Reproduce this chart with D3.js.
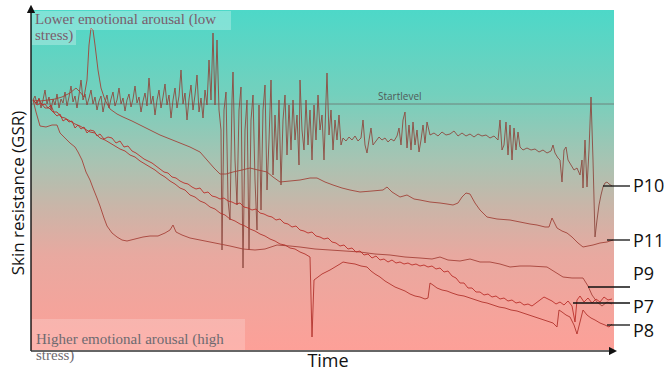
<!DOCTYPE html>
<html>
<head>
<meta charset="utf-8">
<script src="https://cdn.jsdelivr.net/npm/d3@7"></script>
<style>
  body { margin: 0; background: #fff; }
  svg { display: block; }
</style>
</head>
<body>
<svg id="chart"></svg>
<script>
// time in seconds, skin resistance in arbitrary GSR units
const timeDomain = [0, 580];
const gsrDomain = [0, 340];
const startLevel = 246;

const p10 = [[0,250],[2,254],[4,246],[6,252],[8,242],[10,250],[12,260],[14,246],[16,253],[18,240],[20,251],[22,245],[24,256],[26,242],[28,251],[30,247],[32,258],[34,244],[36,253],[38,264],[40,248],[42,254],[44,242],[46,255],[48,270],[50,250],[52,256],[54,245],[56,252],[58,260],[60,246],[62,253],[64,240],[66,249],[68,254],[70,238],[72,248],[74,255],[76,242],[78,251],[80,258],[82,244],[84,250],[86,262],[88,246],[90,252],[92,239],[94,250],[96,256],[98,243],[100,251],[102,264],[104,247],[106,253],[108,238],[110,249],[112,257],[114,244],[116,272],[118,246],[120,254],[122,235],[124,250],[126,260],[128,242],[130,253],[132,266],[134,245],[136,255],[138,232],[140,250],[142,262],[144,242],[146,254],[148,280],[150,246],[152,257],[154,230],[156,251],[158,265],[160,240],[162,255],[164,275],[166,238],[168,252],[170,232],[172,260],[174,245],[176,290],[178,250],[180,317],[182,245],[184,310],[186,240],[188,220],[189,100],[191,240],[193,258],[195,150],[197,130],[199,250],[200,278],[202,190],[204,145],[206,240],[208,263],[210,82],[212,220],[214,250],[216,100],[218,230],[220,255],[222,170],[224,120],[226,245],[228,140],[230,240],[232,265],[234,160],[236,210],[238,270],[240,175],[242,235],[244,190],[246,250],[248,165],[250,230],[252,255],[254,195],[256,245],[258,200],[260,250],[262,210],[264,235],[266,185],[267,270],[269,220],[271,200],[273,250],[275,205],[277,240],[279,190],[281,245],[283,210],[285,255],[287,220],[289,235],[291,190],[293,250],[294,277],[296,215],[298,240],[300,200],[302,230],[304,210],[306,235],[308,205],[310,212],[313,209],[316,213],[319,210],[322,214],[325,209],[328,212],[330,230],[332,205],[334,197],[336,210],[338,222],[340,205],[343,209],[346,213],[349,210],[352,212],[355,208],[358,211],[361,209],[364,214],[366,222],[368,205],[370,230],[372,238],[374,202],[376,225],[378,200],[380,228],[382,205],[384,220],[386,198],[388,210],[390,225],[392,207],[394,228],[397,215],[401,217],[405,214],[409,218],[413,215],[417,216],[421,219],[425,214],[429,217],[433,214],[437,216],[441,213],[445,216],[449,214],[453,215],[457,212],[461,214],[465,210],[467,230],[469,200],[471,205],[473,228],[475,195],[477,225],[479,190],[481,222],[483,200],[485,218],[487,203],[490,200],[494,202],[498,200],[502,201],[506,198],[510,200],[514,197],[518,199],[520,205],[522,197],[525,192],[527,190],[529,168],[531,200],[533,203],[535,190],[538,185],[541,180],[544,182],[547,175],[549,190],[550,162],[552,210],[554,163],[556,200],[558,253],[560,190],[562,113],[564,130],[566,145],[568,155],[570,163],[572,167],[574,168],[576,166],[579,164]];

const p11 = [[0,250],[7,249],[15,250],[22,251],[29,253],[37,257],[43,262],[47,258],[51,253],[54,270],[56,305],[58,322],[60,320],[62,305],[65,280],[68,262],[72,250],[77,241],[84,236],[90,233],[99,229],[107,225],[117,220],[127,215],[137,211],[147,207],[157,203],[167,198],[174,190],[181,182],[187,176],[193,176],[200,178],[209,180],[217,182],[225,180],[234,178],[240,173],[247,168],[257,169],[267,170],[277,172],[284,172],[292,168],[300,165],[309,162],[317,160],[327,158],[339,159],[350,160],[354,163],[359,158],[367,153],[374,155],[381,151],[387,150],[397,148],[407,147],[414,146],[420,145],[425,147],[429,153],[433,157],[437,156],[442,147],[447,140],[454,133],[464,131],[477,130],[487,128],[497,126],[504,125],[512,123],[516,123],[519,132],[522,126],[524,122],[529,119],[534,117],[539,113],[545,107],[550,103],[555,104],[560,105],[567,107],[574,108],[580,110]];

const p9 = [[0,250],[3,238],[7,224],[13,223],[19,225],[24,225],[27,217],[32,212],[37,207],[42,203],[45,198],[49,190],[53,178],[57,170],[60,162],[64,152],[67,144],[71,132],[74,124],[79,117],[84,113],[89,110],[94,109],[102,111],[110,113],[117,114],[125,114],[132,117],[137,120],[140,125],[143,118],[149,115],[157,112],[167,110],[177,108],[187,106],[197,104],[210,101],[222,100],[232,101],[244,105],[257,104],[267,103],[282,101],[297,100],[312,99],[327,98],[342,96],[357,95],[372,93],[387,92],[399,91],[407,93],[415,90],[427,89],[437,91],[447,88],[457,88],[467,86],[477,83],[487,84],[497,84],[514,83],[522,78],[530,73],[539,72],[550,72],[555,64],[559,55],[564,48],[569,44],[574,48],[579,46]];

const p7 = [[0,250],[3,247],[6,251],[9,245],[12,246],[15,242],[18,245],[21,237],[24,234],[27,236],[30,229],[33,231],[36,228],[39,229],[42,222],[45,225],[48,221],[51,223],[54,217],[57,220],[61,219],[64,214],[67,216],[71,211],[75,213],[79,212],[83,207],[87,209],[91,203],[95,204],[99,199],[103,197],[107,194],[111,191],[115,189],[119,187],[123,184],[127,181],[131,178],[135,177],[139,173],[143,172],[147,169],[151,167],[155,166],[159,163],[163,161],[167,162],[171,157],[175,158],[179,154],[183,153],[187,151],[191,152],[195,149],[199,148],[203,146],[207,147],[211,143],[215,142],[219,140],[223,141],[227,137],[231,136],[235,134],[239,133],[243,130],[247,131],[251,127],[255,126],[259,123],[263,124],[267,120],[271,119],[275,117],[279,118],[283,114],[287,113],[291,111],[295,112],[299,108],[303,107],[307,104],[311,105],[315,101],[319,102],[323,98],[327,99],[331,95],[335,96],[339,92],[343,94],[347,90],[351,91],[355,88],[359,90],[363,87],[367,88],[371,86],[375,87],[379,85],[383,86],[387,84],[391,85],[395,83],[399,84],[403,81],[407,82],[411,78],[415,79],[419,74],[423,72],[427,67],[431,67],[435,62],[439,62],[443,58],[447,58],[451,55],[455,56],[459,53],[463,54],[467,51],[471,52],[475,49],[479,50],[483,47],[487,48],[491,45],[495,46],[499,44],[503,47],[507,50],[511,53],[515,51],[519,49],[523,46],[527,48],[531,45],[535,49],[539,44],[542,28],[544,50],[547,54],[551,48],[555,52],[559,47],[563,51],[567,48],[571,53],[575,50],[579,51]];

const p8 = [[0,250],[4,245],[8,247],[12,242],[16,242],[20,238],[24,238],[28,233],[32,232],[37,229],[42,226],[47,224],[52,221],[57,218],[62,217],[67,212],[72,210],[77,207],[82,204],[87,201],[92,199],[97,195],[102,193],[107,189],[112,186],[117,183],[122,180],[127,176],[132,173],[137,169],[142,166],[147,162],[152,160],[157,155],[162,153],[167,149],[172,147],[177,143],[182,141],[187,137],[192,135],[197,131],[202,129],[207,126],[212,124],[217,121],[222,119],[227,116],[232,114],[237,111],[242,109],[247,106],[252,105],[257,102],[262,101],[267,98],[272,96],[277,93],[279,13],[281,70],[285,73],[289,76],[293,78],[297,80],[302,83],[307,86],[310,88],[315,87],[322,86],[328,84],[334,83],[338,79],[342,76],[347,73],[352,69],[357,66],[362,63],[367,61],[372,59],[377,56],[382,54],[387,53],[392,51],[395,52],[397,67],[400,65],[404,62],[409,60],[414,59],[419,57],[425,55],[431,54],[437,52],[443,50],[449,48],[454,47],[460,45],[466,43],[472,42],[478,40],[484,39],[490,37],[496,35],[502,33],[508,31],[514,29],[520,27],[524,23],[526,40],[529,38],[533,35],[537,33],[541,25],[544,16],[547,28],[550,40],[554,35],[558,32],[562,30],[567,27],[572,25],[576,23],[579,26]];

const seriesNames = ['P10', 'P11', 'P9', 'P7', 'P8'];
const seriesData = [p10, p11, p9, p7, p8];
const seriesColors = ['#8e4a40', '#a2443a', '#a6423a', '#bb302a', '#b2342e'];
// where each label's leader line touches its trace
const leaderTime = [570, 574, 555, 540, 574];
const leaderLevel = [164, 110, 63, 47, 25];

const width = 664, height = 374;
const plot = { left: 31, right: 614, top: 10, bottom: 350 };

const svg = d3.select('#chart').attr('width', width).attr('height', height);

const x = d3.scaleLinear().domain(timeDomain).range([33, 613]);
const y = d3.scaleLinear().domain(gsrDomain).range([plot.bottom, plot.top]);

// background gradient, calm at the top and stressed at the bottom
const defs = svg.append('defs');
const grad = defs.append('linearGradient').attr('id', 'bg')
  .attr('x1', 0).attr('y1', 0).attr('x2', 0).attr('y2', 1);
[[0, '#4dd8c8'], [0.25, '#74d0bd'], [0.45, '#a9c3b2'], [0.58, '#cab5a8'], [0.72, '#e8a9a0'], [1, '#fda098']]
  .forEach(s => grad.append('stop').attr('offset', s[0]).attr('stop-color', s[1]));

defs.append('clipPath').attr('id', 'clip').append('rect')
  .attr('x', plot.left).attr('y', plot.top)
  .attr('width', plot.right - plot.left).attr('height', plot.bottom - plot.top);

const arrow = defs.append('marker').attr('id', 'arrow')
  .attr('viewBox', '0 0 10 10').attr('refX', 5).attr('refY', 5)
  .attr('markerWidth', 6).attr('markerHeight', 6).attr('orient', 'auto');
arrow.append('path').attr('d', 'M0,0L10,5L0,10Z').attr('fill', '#111');

svg.append('rect')
  .attr('x', plot.left).attr('y', plot.top)
  .attr('width', plot.right - plot.left).attr('height', plot.bottom - plot.top)
  .attr('fill', 'url(#bg)');

// start level reference
svg.append('line')
  .attr('x1', plot.left).attr('x2', plot.right)
  .attr('y1', y(startLevel)).attr('y2', y(startLevel))
  .attr('stroke', '#6b7c76').attr('stroke-width', 0.9);
svg.append('text')
  .attr('x', x(345)).attr('y', y(startLevel) - 4)
  .style('font-family', 'Open Sans, sans-serif').style('font-size', '10px')
  .attr('fill', '#505a58')
  .text('Startlevel');

// traces
const line = d3.line().x(d => x(d[0])).y(d => y(d[1]));
svg.append('g').attr('clip-path', 'url(#clip)')
  .selectAll('path')
  .data(seriesData)
  .enter()
  .append('path')
  .attr('d', line)
  .attr('fill', 'none')
  .attr('stroke', (d, i) => seriesColors[i])
  .attr('stroke-width', 1)
  .attr('stroke-linejoin', 'round')
  .attr('opacity', 0.9);

// arousal captions
const serif = 'Liberation Serif, Times New Roman, serif';
svg.append('rect').attr('x', plot.left + 1).attr('y', 11).attr('width', 199).attr('height', 19)
  .attr('fill', '#fff').attr('opacity', 0.28);
svg.append('rect').attr('x', plot.left + 1).attr('y', 30).attr('width', 44).attr('height', 15)
  .attr('fill', '#fff').attr('opacity', 0.28);
svg.append('text').attr('x', 35).attr('y', 24)
  .style('font-family', serif).style('font-size', '15px').attr('fill', '#7a5c6c')
  .text('Lower emotional arousal (low');
svg.append('text').attr('x', 35).attr('y', 40)
  .style('font-family', serif).style('font-size', '15px').attr('fill', '#7a5c6c')
  .text('stress)');

svg.append('rect').attr('x', plot.left + 1).attr('y', 319).attr('width', 213).attr('height', 31)
  .attr('fill', '#fff').attr('opacity', 0.2);
svg.append('text').attr('x', 36).attr('y', 344)
  .style('font-family', serif).style('font-size', '15px').attr('fill', '#6e6a70')
  .text('Higher emotional arousal (high');
svg.append('text').attr('x', 36).attr('y', 360)
  .style('font-family', serif).style('font-size', '15px').attr('fill', '#6e6a70')
  .text('stress)');

// axes with arrow heads
svg.append('line')
  .attr('x1', plot.left).attr('y1', plot.bottom + 1).attr('x2', plot.left).attr('y2', 9)
  .attr('stroke', '#111').attr('stroke-width', 1.4).attr('marker-end', 'url(#arrow)');
svg.append('line')
  .attr('x1', plot.left).attr('y1', plot.bottom + 1).attr('x2', plot.right - 1).attr('y2', plot.bottom + 1)
  .attr('stroke', '#333').attr('stroke-width', 1.4).attr('marker-end', 'url(#arrow)');

const sans = 'Open Sans, sans-serif';
svg.append('text')
  .attr('transform', 'translate(24,193) rotate(-90)')
  .attr('text-anchor', 'middle')
  .style('font-family', sans).style('font-size', '17px').attr('fill', '#111')
  .text('Skin resistance (GSR)');
svg.append('text')
  .attr('x', 328).attr('y', 367)
  .attr('text-anchor', 'middle')
  .style('font-family', sans).style('font-size', '18px').attr('fill', '#111')
  .text('Time');

// participant labels with leader lines
const labelX = x(timeDomain[1]) + 20;
const labelBaseline = [192, 247, 280, 313, 337];
seriesNames.forEach((name, i) => {
  svg.append('line')
    .attr('x1', x(leaderTime[i])).attr('x2', labelX - 3)
    .attr('y1', y(leaderLevel[i])).attr('y2', y(leaderLevel[i]))
    .attr('stroke', '#111').attr('stroke-width', 1.3);
  svg.append('text')
    .attr('x', labelX).attr('y', labelBaseline[i])
    .style('font-family', sans).style('font-size', '18px').attr('fill', '#111')
    .text(name);
});
</script>
</body>
</html>
